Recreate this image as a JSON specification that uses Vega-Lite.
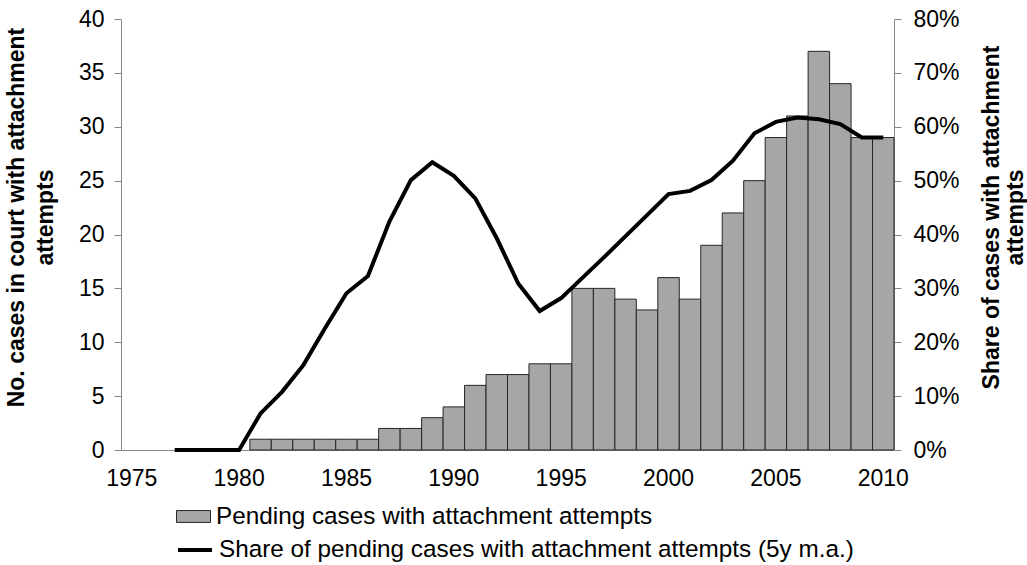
{
  "$schema": "https://vega.github.io/schema/vega-lite/v6.json",
  "width": 773,
  "height": 431,
  "autosize": {"type": "none"},
  "padding": {"left": 121, "top": 19, "right": 133, "bottom": 115},
  "background": "white",
  "config": {
    "view": {"stroke": null},
    "font": "Liberation Sans",
    "axis": {"grid": false, "labelColor": "black", "domainColor": "#868686", "tickColor": "#868686", "labelFontSize": 23, "titleFontSize": 23, "titleColor": "black", "titleFontWeight": "bold"},
    "legend": {"labelFontSize": 24.3, "labelColor": "black", "labelOffset": 5, "padding": 0, "titlePadding": 0, "labelLimit": 800}
  },
  "data": {
    "values": [
      {"year": 1977, "cases": null, "share": 0},
      {"year": 1978, "cases": null, "share": 0},
      {"year": 1979, "cases": null, "share": 0},
      {"year": 1980, "cases": null, "share": 0},
      {"year": 1981, "cases": 1, "share": 0.068},
      {"year": 1982, "cases": 1, "share": 0.108},
      {"year": 1983, "cases": 1, "share": 0.158},
      {"year": 1984, "cases": 1, "share": 0.226},
      {"year": 1985, "cases": 1, "share": 0.291},
      {"year": 1986, "cases": 1, "share": 0.323},
      {"year": 1987, "cases": 2, "share": 0.424},
      {"year": 1988, "cases": 2, "share": 0.501},
      {"year": 1989, "cases": 3, "share": 0.534},
      {"year": 1990, "cases": 4, "share": 0.509},
      {"year": 1991, "cases": 6, "share": 0.467},
      {"year": 1992, "cases": 7, "share": 0.393},
      {"year": 1993, "cases": 7, "share": 0.309},
      {"year": 1994, "cases": 8, "share": 0.258},
      {"year": 1995, "cases": 8, "share": 0.282},
      {"year": 1996, "cases": 15, "share": 0.32},
      {"year": 1997, "cases": 15, "share": 0.358},
      {"year": 1998, "cases": 14, "share": 0.397},
      {"year": 1999, "cases": 13, "share": 0.436},
      {"year": 2000, "cases": 16, "share": 0.475},
      {"year": 2001, "cases": 14, "share": 0.481},
      {"year": 2002, "cases": 19, "share": 0.501},
      {"year": 2003, "cases": 22, "share": 0.537},
      {"year": 2004, "cases": 25, "share": 0.588},
      {"year": 2005, "cases": 29, "share": 0.609},
      {"year": 2006, "cases": 31, "share": 0.617},
      {"year": 2007, "cases": 37, "share": 0.614},
      {"year": 2008, "cases": 34, "share": 0.605},
      {"year": 2009, "cases": 29, "share": 0.58},
      {"year": 2010, "cases": 29, "share": 0.58}
    ]
  },
  "encoding": {
    "x": {
      "field": "year",
      "type": "ordinal",
      "scale": {
        "domain": [1975,1976,1977,1978,1979,1980,1981,1982,1983,1984,1985,1986,1987,1988,1989,1990,1991,1992,1993,1994,1995,1996,1997,1998,1999,2000,2001,2002,2003,2004,2005,2006,2007,2008,2009,2010],
        "paddingInner": 0,
        "paddingOuter": 0
      },
      "axis": {
        "values": [1975,1980,1985,1990,1995,2000,2005,2010],
        "title": null,
        "labelAngle": 0,
        "ticks": false,
        "tickSize": 0,
        "labelPadding": 17
      }
    }
  },
  "layer": [
    {
      "mark": {"type": "bar", "stroke": "#262626", "strokeWidth": 1},
      "encoding": {
        "y": {
          "field": "cases",
          "type": "quantitative",
          "scale": {"domain": [0, 40], "nice": false},
          "axis": {
            "orient": "left",
            "values": [0,5,10,15,20,25,30,35,40],
            "tickSize": 7,
            "labelPadding": 10,
            "title": ["No. cases in court with attachment", "attempts"],
            "titleAngle": -90,
            "titleX": -105,
            "titleY": 198,
            "titleAlign": "center",
            "titleBaseline": "middle",
            "titleLineHeight": 29
          }
        },
        "fill": {
          "datum": "Pending cases with attachment attempts",
          "type": "nominal",
          "scale": {"range": ["#a6a6a6"]},
          "legend": {
            "title": null,
            "orient": "none",
            "legendX": 55,
            "legendY": 480,
            "symbolType": "M-1,-0.35H1V0.35H-1Z",
            "symbolSize": 1156,
            "symbolStrokeColor": "#262626",
            "symbolStrokeWidth": 1,
            "symbolOpacity": 1
          }
        }
      }
    },
    {
      "mark": {"type": "line", "strokeWidth": 4, "strokeJoin": "miter"},
      "encoding": {
        "y": {
          "field": "share",
          "type": "quantitative",
          "scale": {"domain": [0, 0.8], "nice": false},
          "axis": {
            "orient": "right",
            "values": [0,0.1,0.2,0.3,0.4,0.5,0.6,0.7,0.8],
            "format": ".0%",
            "tickSize": 7,
            "labelPadding": 12,
            "title": ["Share of cases with attachment", "attempts"],
            "titleAngle": -90,
            "titleX": 97,
            "titleY": 198,
            "titleAlign": "center",
            "titleBaseline": "middle",
            "titleLineHeight": 24
          }
        },
        "stroke": {
          "datum": "Share of pending cases with attachment attempts (5y m.a.)",
          "type": "nominal",
          "scale": {"range": ["black"]},
          "legend": {
            "title": null,
            "orient": "none",
            "legendX": 55,
            "legendY": 512,
            "symbolType": "stroke",
            "symbolSize": 1156,
            "symbolStrokeWidth": 4
          }
        }
      }
    }
  ],
  "resolve": {"scale": {"y": "independent"}}
}
